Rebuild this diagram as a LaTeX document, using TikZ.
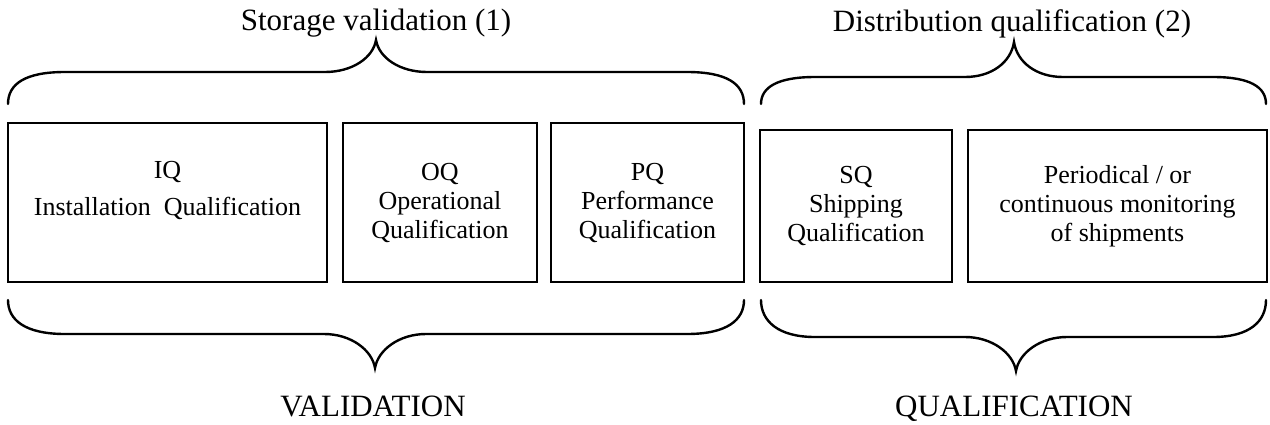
\documentclass[tikz,border=0pt]{standalone}
\usepackage{fontspec}
\setmainfont{Liberation Serif}

\begin{document}
\begin{tikzpicture}[
  x=0.5pt, y=-0.5pt,
  stage/.style={rectangle, draw, line width=1pt, align=center, inner sep=0pt,
    font=\fontsize{13}{14.5}\selectfont},
  heading/.style={anchor=base, inner sep=0pt, font=\fontsize{15.5}{17}\selectfont},
  curly/.style={line width=1.2pt, line cap=round}
  ]
  \useasboundingbox (0,0) rectangle (1270,424);

  % the five stages
  \node[stage, minimum width=159.5pt, minimum height=79.5pt] (iq) at (167.5,202.5)
    {IQ\\[4pt]Installation~~Qualification\\\mbox{}};
  \node[stage, minimum width=97pt, minimum height=79.5pt] (oq) at (440,202.5)
    {OQ\\Operational\\Qualification};
  \node[stage, minimum width=96.5pt, minimum height=79.5pt] (pq) at (647.5,202.5)
    {PQ\\Performance\\Qualification};
  \node[stage, minimum width=96pt, minimum height=76pt] (sq) at (856,206)
    {SQ\\Shipping\\Qualification};
  \node[stage, minimum width=149.5pt, minimum height=76pt] (monitor) at (1117.5,206)
    {Periodical / or\\continuous monitoring\\of shipments};

  % braces above
  \draw[curly] (8,104) .. controls (8,84) and (25,72) .. (65,72) -- (325,72)
    .. controls (352,72) and (373,58) .. (376,40)
    .. controls (379,58) and (400,72) .. (427,72) -- (687,72)
    .. controls (727,72) and (744,84) .. (744,104);
  \draw[curly] (761,104) .. controls (761,87) and (778,77) .. (815,77) -- (965,77)
    .. controls (992,77) and (1011,62) .. (1014,42)
    .. controls (1017,62) and (1036,77) .. (1063,77) -- (1213,77)
    .. controls (1250,77) and (1266,87) .. (1266,104);

  % braces below
  \draw[curly] (8,300) .. controls (8,320) and (25,334) .. (65,334) -- (324,334)
    .. controls (351,334) and (372,350) .. (375,368)
    .. controls (378,350) and (399,334) .. (426,334) -- (687,334)
    .. controls (727,334) and (744,320) .. (744,300);
  \draw[curly] (761,300) .. controls (761,321) and (778,337) .. (815,337) -- (965,337)
    .. controls (992,337) and (1013,353) .. (1016,371)
    .. controls (1019,353) and (1040,337) .. (1067,337) -- (1213,337)
    .. controls (1250,337) and (1266,321) .. (1266,300);

  % headings
  \node[heading] (storage) at (376,30) {Storage validation (1)};
  \node[heading] (distribution) at (1012,31) {Distribution qualification (2)};
  \node[heading] (validation) at (373,416) {VALIDATION};
  \node[heading] (qualification) at (1014,416) {QUALIFICATION};
\end{tikzpicture}
\end{document}
